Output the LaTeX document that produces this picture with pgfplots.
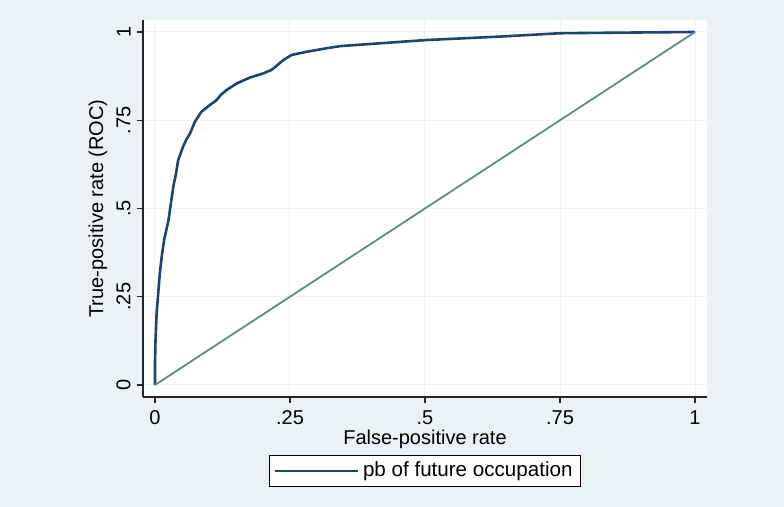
\documentclass[border=0pt]{standalone}
\usepackage{fontspec}
\setmainfont{Liberation Sans}
\usepackage{pgfplots}
\pgfplotsset{compat=1.18}
\definecolor{bgblue}{RGB}{234,242,243}
\definecolor{stnavy}{RGB}{26,71,111}
\definecolor{diagc}{RGB}{96,140,124}
\definecolor{gridc}{RGB}{236,243,245}
\begin{document}
\begin{tikzpicture}
\fill[bgblue] (-71.5pt,-55pt) rectangle (320.5pt,198.5pt);
\begin{axis}[
    at={(0pt,0pt)}, anchor=south west,
    scale only axis,
    width=282pt, height=188.5pt,
    xmin=-0.0222, xmax=1.0222,
    ymin=-0.034, ymax=1.034,
    axis background/.style={fill=white},
    axis x line*=bottom, axis y line*=left,
    axis line style={-, line width=0.8pt, black!85},
    xtick={0,0.25,0.5,0.75,1}, xticklabels={0,.25,.5,.75,1},
    ytick={0,0.25,0.5,0.75,1}, yticklabels={0,.25,.5,.75,1},
    tick align=outside, major tick length=3pt,
    tick style={line width=0.6pt, black!85},
    grid=major, major grid style={line width=0.5pt, gridc},
    xticklabel style={anchor=north, inner sep=0pt, yshift=-3.5pt},
    yticklabel style={xshift=-3pt, rotate=90, anchor=south, inner sep=0pt},
    xlabel={False-positive rate},
    ylabel={True-positive rate (ROC)},
    xlabel style={at={(axis description cs:0.5,-0.125)}, anchor=base, inner sep=0pt},
    ylabel style={at={(axis description cs:-0.0798,0.5)}, anchor=center, rotate=0},
    legend style={at={(axis description cs:0.5,-0.1963)}, anchor=center,
        draw=black, line width=0.6pt, fill=white,
        inner xsep=2pt, inner ysep=1.25pt,
        font=\fontsize{10.3pt}{12pt}\selectfont,
        nodes={inner sep=2pt, line width=0.4pt}},
    legend cell align=left,
    legend image code/.code={\draw[stnavy, line width=0.7pt] (0pt,0pt) -- (37.5pt,0pt); \path (0pt,0pt) -- (41.5pt,0pt);},
    font=\fontsize{10pt}{12pt}\selectfont,
]
\addplot[stnavy, line width=1.3pt, line join=round] coordinates {
(0,0) (0,0.06) (0.001,0.127) (0.003,0.203) (0.006,0.26) (0.009,0.317)
(0.013,0.37) (0.017,0.411) (0.025,0.467) (0.030,0.52) (0.034,0.562)
(0.039,0.60) (0.043,0.637) (0.052,0.675) (0.058,0.695) (0.065,0.713)
(0.074,0.746) (0.086,0.774) (0.099,0.790) (0.114,0.807) (0.122,0.822)
(0.133,0.836) (0.151,0.854) (0.176,0.871) (0.201,0.883) (0.215,0.892)
(0.222,0.900) (0.238,0.921) (0.253,0.935) (0.281,0.944) (0.318,0.954)
(0.343,0.960) (0.417,0.968) (0.5,0.977) (0.639,0.987) (0.75,0.9965)
(0.85,0.998) (1,1)};
\addlegendentry{pb of future occupation\hspace{4.5pt}}
\addplot[diagc, line width=0.9pt, forget plot] coordinates {(0,0) (1,1)};
\end{axis}
\pgfresetboundingbox
\useasboundingbox (-71.5pt,-55pt) rectangle (320.5pt,198.5pt);
\end{tikzpicture}
\end{document}
